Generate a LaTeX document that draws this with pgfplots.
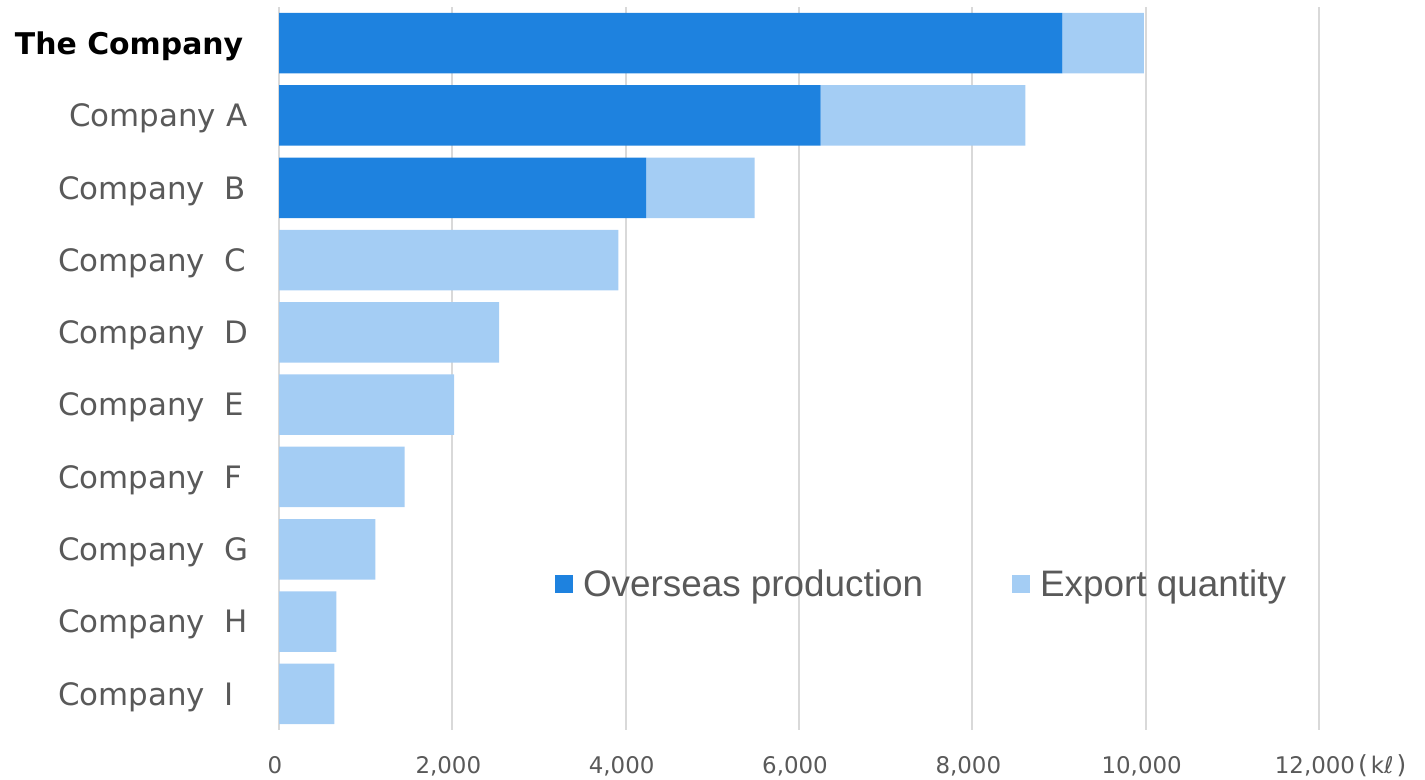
\documentclass[border=0pt]{standalone}
\usepackage{pgfplots}
\pgfplotsset{compat=1.18}
\usepackage{fontspec}
\setmainfont{DejaVu Sans}
\newfontfamily\arial{Liberation Sans}
\definecolor{darkb}{HTML}{1E82DF}
\definecolor{lightb}{HTML}{A4CDF4}
\definecolor{txt}{HTML}{595959}
\definecolor{gridc}{HTML}{D9D9D9}
\pgfplotsset{sqlegend/.style={legend image code/.code={\fill[##1,draw=none] (0bp,-9bp) rectangle (18bp,9bp);}}}
\begin{document}
\begin{tikzpicture}
\useasboundingbox (0,0) rectangle (1425bp,780bp);
\begin{axis}[
  at={(279bp,50bp)}, anchor=south west,
  scale only axis, width=1040bp, height=723bp,
  xbar stacked, bar width=60.5bp,
  xmin=0, xmax=12000, ymin=-0.5, ymax=9.5, y dir=reverse,
  axis line style={draw=none}, tick style={draw=none},
  major tick length=0pt,
  scaled x ticks=false,
  xtick={0,2000,4000,6000,8000,10000,12000},
  xticklabels={0,{2,000},{4,000},{6,000},{8,000},{10,000},{12,000\rlap{\hspace{3bp}{\fontsize{25}{28}\selectfont(}\hspace{3bp}kℓ\hspace{3bp}{\fontsize{25}{28}\selectfont)}}}},
  xticklabel style={font=\fontsize{23}{28}\selectfont, text=txt, anchor=base, inner sep=0pt, yshift=-43bp, xshift=-4bp},
  ytick={0,1,2,3,4,5,6,7,8,9},
  yticklabels={{\makebox[185bp][r]{\fontsize{30}{36}\selectfont\bfseries\color{black}The Company}},
    {\makebox[189bp][r]{Company A}},{Company\ \ B},{Company\ \ C},{Company\ \ D},{Company\ \ E},
    {Company\ \ F},{Company\ \ G},{Company\ \ H},{Company\ \ I}},
  yticklabel style={font=\fontsize{31}{37}\selectfont, text=txt, anchor=base west, inner sep=0pt, xshift=-221bp, yshift=-11.3bp},
  xmajorgrids, major grid style={gridc, line width=1.8bp},
  legend columns=2,
  legend style={draw=none, fill=none, at={(axis description cs:0.2654,0.202)}, anchor=west,
    inner sep=0pt, outer sep=0pt,
    font=\arial\fontsize{37}{44}\selectfont, text=txt,
    nodes={inner sep=0pt},
    /tikz/every odd column/.append style={column sep=10bp},
    /tikz/every even column/.append style={column sep=89bp}},
]
\addplot[fill=darkb, draw=none, sqlegend] coordinates {
  (9040,0) (6250,1) (4235,2) (0,3) (0,4) (0,5) (0,6) (0,7) (0,8) (0,9)};
\addplot[fill=lightb, draw=none, sqlegend] coordinates {
  (940,0) (2363,1) (1252,2) (3915,3) (2540,4) (2021,5) (1450,6) (1112,7) (662,8) (638,9)};
\legend{Overseas production, Export quantity}
\end{axis}
\end{tikzpicture}
\end{document}
